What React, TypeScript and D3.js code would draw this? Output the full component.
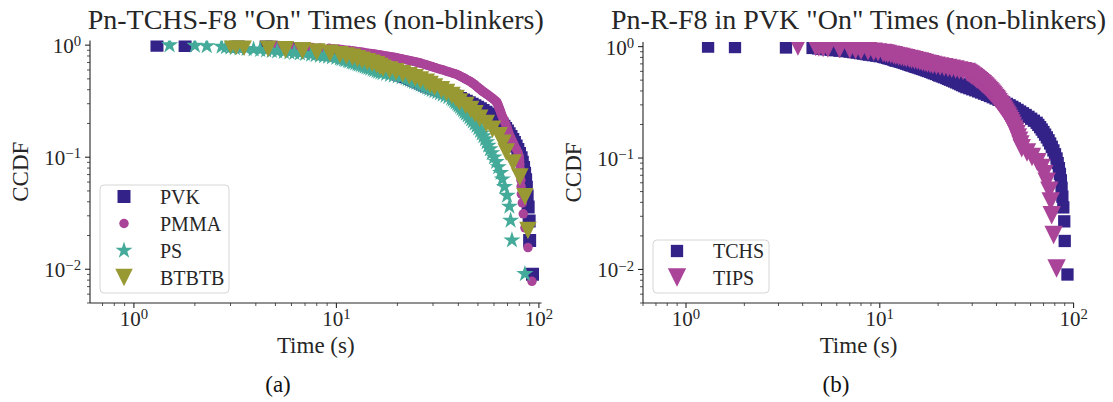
import React from "react";
import * as d3 from "d3";

// "On" durations in seconds, sorted ascending, one entry per molecule.
// Pn-TCHS-F8 in PVK (shown as PVK in panel a and as TCHS in panel b).
const tchsInPvkTimes = [
  1.3, 1.79, 3.28, 4.5, 4.8, 5.0, 5.3, 5.6, 5.9, 6.2, 6.6, 7.0, 7.3, 7.6, 7.9, 8.2, 8.5, 8.8, 9.2, 9.6,
  10.0, 10.4, 10.6, 10.9, 11.1, 11.4, 11.7, 11.9, 12.1, 12.5, 12.8, 13.1, 13.4, 13.7, 14.0, 14.3, 14.6,
  15.0, 15.3, 15.7, 16.1, 16.5, 16.9, 17.3, 17.7, 18.2, 18.6, 19.0, 19.5, 20.0, 20.3, 20.9, 21.4, 22.0,
  22.5, 23.0, 23.6, 24.2, 24.8, 25.4, 26.0, 26.6, 27.3, 28.0, 29.0, 30.0, 31.1, 32.2, 33.3, 34.5, 35.7,
  37.0, 38.3, 39.6, 41.0, 42.4, 43.8, 45.3, 46.8, 48.3, 49.8, 51.4, 53.0, 54.8, 56.6, 58.5, 60.4, 62.4,
  64.5, 65.8, 67.2, 68.5, 69.9, 71.3, 72.8, 74.3, 75.7, 77.2, 78.7, 80.2, 81.7, 82.8, 84.0, 85.0, 86.0,
  86.7, 87.5, 88.5, 89.5, 90.0, 93.0,
];

// Pn-TCHS-F8 in PMMA.
const pmmaTimes = [
  4.8, 5.2, 5.6, 5.9, 6.5, 7.0, 7.6, 8.3, 9.2, 9.7, 10.2, 10.6, 11.0, 11.5, 12.0, 12.4, 12.9, 13.3, 13.7,
  14.2, 14.7, 15.2, 15.7, 16.3, 16.8, 17.4, 18.0, 18.7, 19.3, 19.8, 20.3, 20.9, 21.4, 22.0, 22.6, 23.2,
  23.8, 24.5, 25.1, 25.7, 26.2, 26.8, 27.4, 28.0, 28.6, 29.2, 29.8, 30.5, 31.1, 31.8, 32.6, 33.4, 34.2,
  35.0, 35.8, 36.7, 37.6, 38.5, 39.4, 40.0, 40.7, 41.3, 42.0, 42.7, 43.3, 44.0, 44.7, 45.5, 46.2, 46.8,
  47.4, 48.0, 48.6, 49.2, 49.8, 50.5, 51.1, 51.8, 52.4, 53.3, 54.2, 55.1, 56.0, 56.9, 57.9, 58.8, 59.8,
  60.8, 61.8, 62.2, 62.6, 63.0, 63.3, 63.7, 64.1, 64.5, 64.9, 65.3, 65.7, 66.3, 66.9, 67.4, 68.0, 68.6,
  69.2, 69.8, 70.4, 71.0, 71.6, 72.7, 73.8, 74.9, 76.0, 77.5, 79.0, 80.0, 80.3, 80.6, 80.9, 81.2, 81.5,
  81.7, 81.9, 82.8, 83.7, 85.3, 88.3, 92.4,
];

// Pn-TCHS-F8 in PS.
const psTimes = [
  1.5, 2.0, 2.29, 2.71, 2.85, 3.0, 3.15, 3.33, 3.6, 3.9, 4.2, 4.5, 4.8, 5.1, 5.5, 5.86, 6.2, 6.6, 7.0,
  7.5, 7.9, 8.3, 8.7, 9.1, 9.5, 10.0, 10.4, 10.6, 10.9, 11.1, 11.4, 11.6, 11.9, 12.1, 12.4, 12.7, 12.9,
  13.2, 13.5, 13.8, 14.1, 14.4, 14.7, 15.1, 15.4, 15.8, 16.1, 16.5, 16.9, 17.6, 18.4, 19.2, 20.1, 21.0,
  22.0, 22.5, 23.1, 23.7, 24.2, 24.8, 25.5, 26.1, 26.7, 27.4, 28.1, 28.8, 29.6, 30.5, 31.5, 32.5, 33.5,
  34.6, 35.7, 36.9, 37.5, 38.2, 38.8, 39.5, 40.1, 40.8, 41.5, 42.2, 42.9, 43.6, 44.5, 45.4, 46.3, 47.2,
  48.2, 49.2, 50.2, 51.2, 52.2, 53.2, 54.2, 55.2, 56.2, 57.3, 58.5, 60.0, 61.5, 63.0, 64.7, 66.0, 67.6,
  69.6, 71.5, 72.5, 73.6, 85.3,
];

// Pn-TCHS-F8 in BTBTB.
const btbtbTimes = [
  3.0, 3.2, 3.5, 4.6, 5.6, 6.8, 8.0, 9.3, 10.4, 11.2, 12.0, 12.7, 13.4, 14.2, 15.0, 15.8, 16.4, 17.0,
  18.3, 19.7, 21.3, 22.9, 24.5, 26.0, 27.8, 29.0, 30.5, 33.0, 35.0, 37.2, 39.0, 40.5, 43.5, 46.0, 48.3,
  51.0, 55.0, 59.0, 63.6, 66.5, 69.0, 74.6, 80.5, 85.3, 88.3,
];

// Pn-TIPS-F8 in PVK.
const tipsInPvkTimes = [
  3.78, 4.67, 4.85, 5.1, 5.4, 6.2, 7.0, 7.5, 8.0, 8.7, 9.3, 9.8, 10.4, 10.7, 11.0, 11.4, 11.8, 12.1,
  12.5, 12.9, 13.3, 13.7, 14.2, 14.6, 15.1, 15.6, 16.1, 16.6, 17.1, 17.6, 18.2, 18.8, 19.6, 20.5, 21.5,
  22.5, 23.5, 24.6, 25.7, 26.9, 28.1, 28.5, 28.9, 29.4, 29.8, 30.3, 30.7, 31.2, 31.6, 32.1, 32.6, 33.0,
  33.5, 34.0, 34.5, 35.0, 35.4, 35.9, 36.4, 36.9, 37.4, 37.9, 38.4, 38.9, 39.5, 40.0, 40.5, 41.0, 41.6,
  42.2, 42.8, 43.4, 44.0, 44.6, 45.3, 45.9, 46.6, 47.2, 47.9, 48.6, 49.4, 50.1, 50.8, 51.6, 52.4, 53.2,
  54.0, 57.5, 61.0, 65.0, 68.4, 70.5, 72.6, 75.0, 76.2, 77.1, 78.9, 81.7,
];

const panelATitle = 'Pn-TCHS-F8 "On" Times (non-blinkers)';
const panelBTitle = 'Pn-R-F8 in PVK "On" Times (non-blinkers)';
const panelALabels = ["PVK", "PMMA", "PS", "BTBTB"];
const panelBLabels = ["TCHS", "TIPS"];

type Shape = "square" | "circle" | "star" | "triangle";
interface MarkerStyle { color: string; shape: Shape; size: number }

const styleA: Record<string, MarkerStyle> = {
  PVK: { color: "#332288", shape: "square", size: 13 },
  PMMA: { color: "#AA4499", shape: "circle", size: 9.5 },
  PS: { color: "#44AA99", shape: "star", size: 18 },
  BTBTB: { color: "#999933", shape: "triangle", size: 17.5 },
};
const styleB: Record<string, MarkerStyle> = {
  TCHS: { color: "#332288", shape: "square", size: 12.3 },
  TIPS: { color: "#AA4499", shape: "triangle", size: 18.4 },
};

const seriesA: [string, number[]][] = [
  ["PVK", tchsInPvkTimes],
  ["PMMA", pmmaTimes],
  ["PS", psTimes],
  ["BTBTB", btbtbTimes],
];
const seriesB: [string, number[]][] = [
  ["TCHS", tchsInPvkTimes],
  ["TIPS", tipsInPvkTimes],
];

const FONT = '"Liberation Serif", "Times New Roman", serif';
const INK = "#262626";

// Empirical complementary CDF: the i-th smallest of n durations has P(T >= t) = (n - i) / n.
function ccdf(times: number[]) {
  const n = times.length;
  return times.map((t, i) => ({ t, p: (n - i) / n }));
}

function markerPath(shape: Shape, size: number): string {
  const r = size / 2;
  if (shape === "square") return `M${-r},${-r}H${r}V${r}H${-r}Z`;
  if (shape === "triangle") return `M${-r},${-r}L${r},${-r}L0,${r}Z`;
  if (shape === "star") {
    const pts: string[] = [];
    for (let i = 0; i < 10; i++) {
      const a = -Math.PI / 2 + (i * Math.PI) / 5;
      const rad = i % 2 === 0 ? r : r * 0.381966;
      pts.push(`${(rad * Math.cos(a)).toFixed(3)},${(rad * Math.sin(a)).toFixed(3)}`);
    }
    return `M${pts.join("L")}Z`;
  }
  // circle
  return `M${r},0A${r},${r} 0 1,1 ${-r},0A${r},${r} 0 1,1 ${r},0Z`;
}

function Pow10({ e, x, y, anchor, size }: { e: number; x: number; y: number; anchor: string; size: number }) {
  const exp = e < 0 ? `\u2212${-e}` : `${e}`;
  return (
    <text x={x} y={y} textAnchor={anchor} fontFamily={FONT} fontSize={size} fill={INK}>
      10
      <tspan fontSize={size * 0.7} dy={-size * 0.33}>{exp}</tspan>
    </text>
  );
}

function logTicks(domain: number[]) {
  const [d0, d1] = domain;
  const out: { v: number; major: boolean; e: number }[] = [];
  for (let e = Math.floor(Math.log10(d0)); e <= Math.ceil(Math.log10(d1)); e++) {
    for (let m = 1; m <= 9; m++) {
      const v = m * Math.pow(10, e);
      if (v >= d0 * 0.9999 && v <= d1 * 1.0001) out.push({ v, major: m === 1, e });
    }
  }
  return out;
}

interface PanelProps {
  id: string;
  box: { left: number; right: number; top: number; bottom: number };
  xDomain: number[];
  yDomain: number[];
  title: string;
  series: [string, number[]][];
  styles: Record<string, MarkerStyle>;
  labels: string[];
  legend: { x: number; y: number; w: number; h: number; markerX: number; textX: number; firstRow: number; rowGap: number };
  caption: string;
  captionX: number;
}

function Panel(p: PanelProps) {
  const { box } = p;
  const x = d3.scaleLog().domain(p.xDomain).range([box.left, box.right]);
  const y = d3.scaleLog().domain(p.yDomain).range([box.bottom, box.top]);
  const cx = (box.left + box.right) / 2;
  const cy = (box.top + box.bottom) / 2;
  const clipId = `clip-${p.id}`;
  const xt = logTicks(p.xDomain);
  const yt = logTicks(p.yDomain);

  return (
    <g>
      <defs>
        <clipPath id={clipId}>
          <rect x={box.left} y={box.top} width={box.right - box.left} height={box.bottom - box.top} />
        </clipPath>
      </defs>

      <g clipPath={`url(#${clipId})`}>
        {p.series.map(([name, times]) => {
          const st = p.styles[name];
          const d = markerPath(st.shape, st.size);
          return (
            <g key={name} fill={st.color}>
              {ccdf(times).map((pt, i) => (
                <path key={i} d={d} transform={`translate(${x(pt.t)},${y(pt.p)})`} />
              ))}
            </g>
          );
        })}
      </g>

      {/* spines */}
      <line x1={box.left} x2={box.left} y1={box.top} y2={box.bottom} stroke={INK} strokeWidth={1.1} />
      <line x1={box.left} x2={box.right} y1={box.bottom} y2={box.bottom} stroke={INK} strokeWidth={1.1} />

      {/* x ticks */}
      {xt.map((t, i) => (
        <line key={`xt${i}`} x1={x(t.v)} x2={x(t.v)} y1={box.bottom} y2={box.bottom + (t.major ? 5 : 3)} stroke={INK} strokeWidth={t.major ? 1.1 : 0.8} />
      ))}
      {xt.filter((t) => t.major).map((t, i) => (
        <Pow10 key={`xl${i}`} e={t.e} x={x(t.v)} y={box.bottom + 23} anchor="middle" size={21} />
      ))}

      {/* y ticks */}
      {yt.map((t, i) => (
        <line key={`yt${i}`} x1={box.left - (t.major ? 5 : 3)} x2={box.left} y1={y(t.v)} y2={y(t.v)} stroke={INK} strokeWidth={t.major ? 1.1 : 0.8} />
      ))}
      {yt.filter((t) => t.major).map((t, i) => (
        <Pow10 key={`yl${i}`} e={t.e} x={box.left - 9} y={y(t.v) + 8} anchor="end" size={21} />
      ))}

      {/* labels */}
      <text x={cx} y={29} textAnchor="middle" fontFamily={FONT} fontSize={28} fill={INK}>{p.title}</text>
      <text x={cx} y={353} textAnchor="middle" fontFamily={FONT} fontSize={23} fill={INK}>Time (s)</text>
      <text transform={`translate(${box.left - 62},${cy}) rotate(-90)`} textAnchor="middle" fontFamily={FONT} fontSize={23} fill={INK}>CCDF</text>
      <text x={p.captionX} y={392} textAnchor="middle" fontFamily={FONT} fontSize={23} fill="#111">{p.caption}</text>

      {/* legend */}
      <rect x={p.legend.x} y={p.legend.y} width={p.legend.w} height={p.legend.h} rx={4} fill="#ffffff" fillOpacity={0.8} stroke="#d6d6d6" strokeWidth={1} />
      {p.labels.map((name, i) => {
        const st = p.styles[name];
        const ry = p.legend.firstRow + i * p.legend.rowGap;
        return (
          <g key={name}>
            <path d={markerPath(st.shape, st.size)} fill={st.color} transform={`translate(${p.legend.markerX},${ry})`} />
            <text x={p.legend.textX} y={ry + 7} fontFamily={FONT} fontSize={20} fill={INK}>{name}</text>
          </g>
        );
      })}
    </g>
  );
}

export default function App() {
  return (
    <svg width={1113} height={402} viewBox="0 0 1113 402" style={{ position: "absolute", left: 0, top: 0, background: "#fff" }}>
      <rect width={1113} height={402} fill="#fff" />
      <Panel
        id="a"
        box={{ left: 90, right: 541.5, top: 40.5, bottom: 303 }}
        xDomain={[0.607, 103]}
        yDomain={[0.005, 1.1]}
        title={panelATitle}
        series={seriesA}
        styles={styleA}
        labels={panelALabels}
        legend={{ x: 100, y: 185, w: 129, h: 108, markerX: 124, textX: 160, firstRow: 196.5, rowGap: 27 }}
        caption="(a)"
        captionX={278}
      />
      <Panel
        id="b"
        box={{ left: 643, right: 1074, top: 42, bottom: 303 }}
        xDomain={[0.6, 100.5]}
        yDomain={[0.005, 1.1]}
        title={panelBTitle}
        series={seriesB}
        styles={styleB}
        labels={panelBLabels}
        legend={{ x: 653, y: 240, w: 116, h: 53, markerX: 677, textX: 713, firstRow: 251, rowGap: 26.5 }}
        caption="(b)"
        captionX={836}
      />
    </svg>
  );
}
